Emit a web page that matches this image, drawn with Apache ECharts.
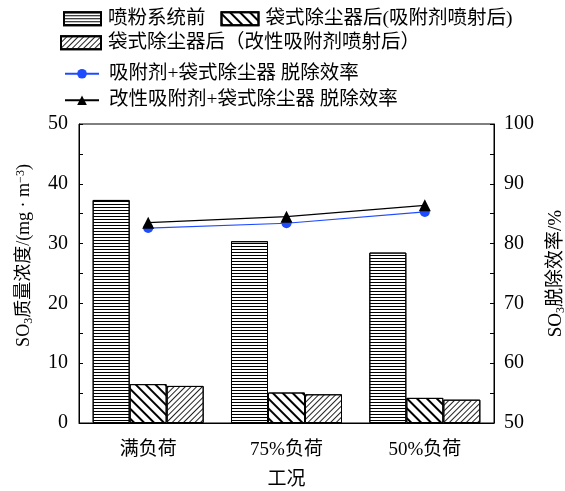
<!DOCTYPE html>
<html>
<head>
<meta charset="utf-8">
<script src="https://cdn.jsdelivr.net/npm/echarts@6/dist/echarts.min.js"></script>
<style>
html,body{margin:0;padding:0;background:#fff;}
#chart{width:565px;height:491px;}
</style>
</head>
<body>
<div id="chart"></div>
<script>
// Operating conditions
const categories = ['满负荷', '75%负荷', '50%负荷'];
// SO3 mass concentration, mg/m3
const beforeInjection = [37.3, 30.4, 28.5];
const afterSorbent = [6.5, 5.1, 4.2];
const afterModifiedSorbent = [6.2, 4.8, 3.9];
// SO3 removal efficiency, %
const effSorbent = [82.6, 83.4, 85.3];
const effModified = [83.5, 84.5, 86.4];

const seriesNames = [
  '喷粉系统前',
  '袋式除尘器后(吸附剂喷射后)',
  '袋式除尘器后（改性吸附剂喷射后）',
  '吸附剂+袋式除尘器 脱除效率',
  '改性吸附剂+袋式除尘器 脱除效率'
];

const FONT = "'Liberation Serif', 'Noto Sans CJK SC', serif";
const FS = 19;

const decalH = { symbol: 'rect', symbolSize: 1, dashArrayX: [1, 0], dashArrayY: [1, 2], rotation: 0, color: '#000' };
const decalBack = { symbol: 'rect', symbolSize: 1, dashArrayX: [1, 0], dashArrayY: [1.4, 4.2], rotation: Math.PI / 4, color: '#000' };
const decalFwd = { symbol: 'rect', symbolSize: 1, dashArrayX: [1, 0], dashArrayY: [1, 2.6], rotation: -Math.PI / 4, color: '#222' };

const barStyle = (decal) => ({ color: '#fff', borderColor: '#000', borderWidth: 1, decal: decal });

const chart = echarts.init(document.getElementById('chart'), null, { renderer: 'canvas' });

const legendText = { fontFamily: FONT, fontSize: 19.5, color: '#000', padding: [0, 0, 0, 2] };

chart.setOption({
  animation: false,
  textStyle: { fontFamily: FONT },
  legend: [
    {
      data: [{ name: seriesNames[0], icon: 'rect' }, { name: seriesNames[1], icon: 'rect' }],
      left: 63, top: 9, itemWidth: 37, itemHeight: 13,
      itemGap: 15, textStyle: legendText, padding: 0
    },
    {
      data: [{ name: seriesNames[2], icon: 'rect' }], left: 60, top: 33, itemWidth: 40, itemHeight: 13,
      textStyle: legendText, padding: 0
    },
    {
      data: [seriesNames[3], seriesNames[4]], orient: 'vertical', left: 64, top: 64, itemWidth: 34, itemHeight: 12,
      itemGap: 7, textStyle: Object.assign({}, legendText, { padding: [0, 0, 0, 5] }), padding: 0
    }
  ],
  grid: {
    left: 79, right: 71, top: 124, bottom: 68, show: true, borderColor: '#000', borderWidth: 1,
    containLabel: false, outerBoundsMode: 'none'
  },
  xAxis: {
    type: 'category', data: categories,
    name: '工况', nameLocation: 'middle', nameGap: 48,
    nameTextStyle: { fontFamily: FONT, fontSize: FS, color: '#000' },
    axisLine: { lineStyle: { color: '#000', width: 1 } },
    axisTick: { show: false },
    axisLabel: { fontFamily: FONT, fontSize: FS, color: '#000', margin: 18 }
  },
  yAxis: [
    {
      type: 'value', min: 0, max: 50, interval: 10,
      name: '{a|SO}{s|3}{a|质量浓度/(mg · m}{p|−3}{a|)}',
      nameLocation: 'middle', nameGap: 44, nameRotate: 90,
      nameTextStyle: {
        padding: [0, 0, 0, 36],
        rich: {
          a: { fontFamily: FONT, fontSize: 18, color: '#000' },
          s: { fontFamily: FONT, fontSize: 12, color: '#000', padding: [9, 0, 0, 0] },
          p: { fontFamily: FONT, fontSize: 12, color: '#000', padding: [0, 0, 8, 0] }
        }
      },
      axisLine: { show: true, lineStyle: { color: '#000' } },
      axisTick: { show: true, inside: true, length: 4, lineStyle: { color: '#000' } },
      minorTick: { show: true, splitNumber: 2, length: 4, lineStyle: { color: '#000' } },
      splitLine: { show: false },
      axisLabel: { fontFamily: FONT, fontSize: 20, color: '#000', margin: 11 }
    },
    {
      type: 'value', min: 50, max: 100, interval: 10, position: 'right',
      name: '{a|SO}{s|3}{a|脱除效率/%}',
      nameLocation: 'middle', nameGap: 52, nameRotate: 90,
      nameTextStyle: {
        rich: {
          a: { fontFamily: FONT, fontSize: 19, color: '#000' },
          s: { fontFamily: FONT, fontSize: 12, color: '#000', padding: [9, 0, 0, 0] }
        }
      },
      axisLine: { show: true, lineStyle: { color: '#000' } },
      axisTick: { show: true, inside: true, length: 4, lineStyle: { color: '#000' } },
      minorTick: { show: true, splitNumber: 2, length: 4, lineStyle: { color: '#000' } },
      splitLine: { show: false },
      axisLabel: { fontFamily: FONT, fontSize: 20, color: '#000', margin: 10 }
    }
  ],
  series: [
    { name: seriesNames[0], type: 'bar', data: beforeInjection, barWidth: 37, barGap: '0%', itemStyle: barStyle(decalH) },
    { name: seriesNames[1], type: 'bar', data: afterSorbent, barWidth: 37, barGap: '0%', itemStyle: barStyle(decalBack) },
    { name: seriesNames[2], type: 'bar', data: afterModifiedSorbent, barWidth: 37, barGap: '0%', itemStyle: barStyle(decalFwd) },
    {
      name: seriesNames[3], type: 'line', yAxisIndex: 1, data: effSorbent,
      symbol: 'circle', symbolSize: 10, z: 5,
      lineStyle: { color: '#1f4bff', width: 1.2 }, itemStyle: { color: '#1f4bff' }
    },
    {
      name: seriesNames[4], type: 'line', yAxisIndex: 1, data: effModified,
      symbol: 'triangle', symbolSize: 12, z: 6,
      lineStyle: { color: '#000', width: 1.2 }, itemStyle: { color: '#000' }
    }
  ]
});
</script>
</body>
</html>
